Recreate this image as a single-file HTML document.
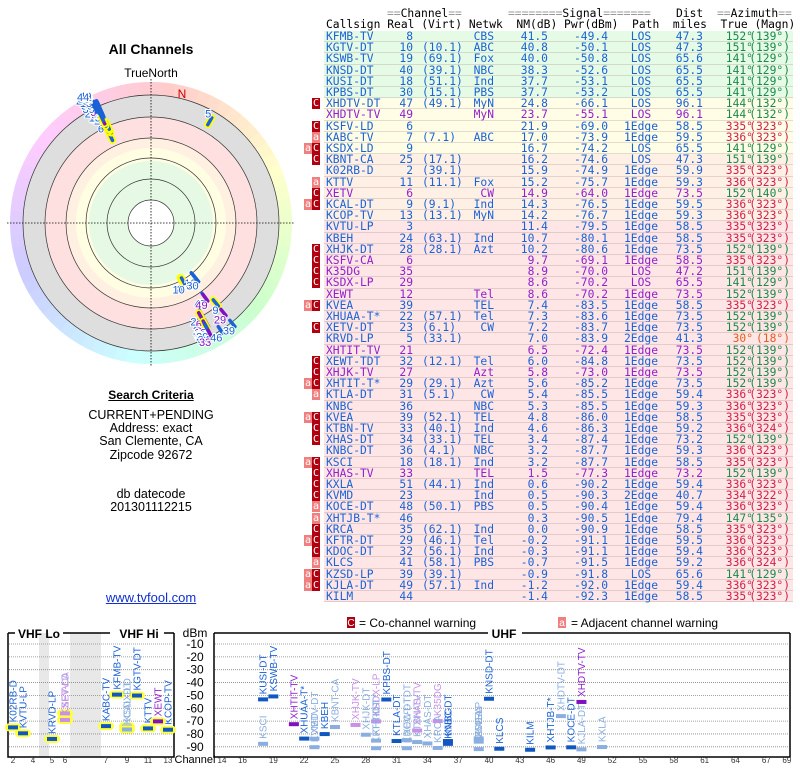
<!DOCTYPE html>
<html><head><meta charset="utf-8"><style>
body{margin:0;width:800px;height:768px;background:#fff;position:relative;overflow:hidden;font-family:"Liberation Sans",sans-serif}
.abs{position:absolute}
#tbl{position:absolute;left:0;top:0;width:800px;height:610px;font-family:"DejaVu Sans Mono","Liberation Mono",monospace;font-size:11.3px}
.row{position:absolute;left:324px;width:469px;height:11.2px;border-bottom:1px solid rgba(150,120,120,0.25);box-sizing:border-box}
.c{position:absolute;top:0;line-height:11px;white-space:pre}
.hd{position:absolute;white-space:pre;line-height:11px;color:#000}
.eq{color:#999}
.wC{position:absolute;width:8px;height:11px;background:#b00010;color:#fff;font-size:10px;line-height:11px;text-align:center}
.wa{position:absolute;width:8px;height:11px;background:#f08080;color:#fff;font-size:10px;line-height:11px;text-align:center}
.ctr{text-align:center;position:absolute;width:300px;left:1px}
</style></head><body>
<div class="ctr" style="top:41px;font-weight:bold;font-size:14px">All Channels</div>
<div class="ctr" style="top:66px;font-size:12px">TrueNorth</div>
<svg id="polar" class="abs" style="left:0;top:0" width="302" height="380"></svg>
<div class="ctr" style="top:388px;font-size:12px;font-weight:bold;text-decoration:underline">Search Criteria</div>
<div class="ctr" style="top:409px;font-size:12.5px;line-height:13.2px">CURRENT+PENDING<br>Address: exact<br>San Clemente, CA<br>Zipcode 92672</div>
<div class="ctr" style="top:488px;font-size:12.5px;line-height:13.2px">db datecode<br>201301112215</div>
<div class="ctr" style="top:590px;font-size:13px;color:#1030d0;text-decoration:underline">www.tvfool.com</div>
<div id="tbl">
<div class="abs" style="left:505px;top:31px;width:53px;height:570px;background:rgba(90,70,70,0.12)"></div>
<div class="hd" style="left:387px;top:8px"><span class="eq">==</span>Channel<span class="eq">==</span></div>
<div class="hd" style="left:508px;top:8px"><span class="eq">========</span>Signal<span class="eq">=======</span></div>
<div class="hd" style="left:676px;top:8px">Dist</div>
<div class="hd" style="left:717px;top:8px"><span class="eq">==</span>Azimuth<span class="eq">==</span></div>
<div class="hd" style="left:326px;top:19px">Callsign Real (Virt) Netwk  NM(dB) Pwr(dBm)  Path  miles  True (Magn)</div>
</div>
<svg id="spec" class="abs" style="left:0;top:615px" width="800" height="153"></svg>
<script>
const callsigns=["KFMB-TV","KGTV-DT","KSWB-TV","KNSD-DT","KUSI-DT","KPBS-DT","XHDTV-DT","XHDTV-TV","KSFV-LD","KABC-TV","KSDX-LD","KBNT-CA","K02RB-D","KTTV","XETV","KCAL-DT","KCOP-TV","KVTU-LP","KBEH","XHJK-DT","KSFV-CA","K35DG","KSDX-LP","XEWT","KVEA","XHUAA-T*","XETV-DT","KRVD-LP","XHTIT-TV","XEWT-TDT","XHJK-TV","XHTIT-T*","KTLA-DT","KNBC","KVEA","KTBN-TV","XHAS-DT","KNBC-DT","KSCI","XHAS-TV","KXLA","KVMD","KOCE-DT","XHTJB-T*","KRCA","KFTR-DT","KDOC-DT","KLCS","KZSD-LP","KJLA-DT","KILM"];
const channels=[8,10,19,40,18,30,47,49,6,7,9,25,2,11,6,9,13,3,24,28,6,35,29,12,39,22,23,5,21,32,27,29,31,36,39,33,34,36,18,33,51,23,48,46,35,29,32,41,39,49,44];
const virt=["","(10.1)","(69.1)","(39.1)","(51.1)","(15.1)","(49.1)","","","(7.1)","","(17.1)","(39.1)","(11.1)","","(9.1)","(13.1)","","(63.1)","(28.1)","","","","","","(57.1)","(6.1)","(33.1)","","(12.1)","","(29.1)","(5.1)","","(52.1)","(40.1)","(33.1)","(4.1)","(18.1)","","(44.1)","","(50.1)","","(62.1)","(46.1)","(56.1)","(58.1)","(39.1)","(57.1)",""];
const netwk=["CBS","ABC","Fox","NBC","Ind","PBS","MyN","MyN","","ABC","","","","Fox","CW","Ind","MyN","","Ind","Azt","","","","Tel","TEL","Tel","CW","","","Tel","Azt","Azt","CW","NBC","TEL","Ind","TEL","NBC","Ind","TEL","Ind","Ind","PBS","","Ind","Tel","Ind","PBS","","Ind",""];
const nm=[41.5,40.8,40.0,38.3,37.7,37.7,24.8,23.7,21.9,17.0,16.7,16.2,15.9,15.2,14.9,14.3,14.2,11.4,10.7,10.2,9.7,8.9,8.6,8.6,7.4,7.3,7.2,7.0,6.5,6.0,5.8,5.6,5.4,5.3,4.8,4.6,3.4,3.2,3.2,1.5,0.6,0.5,0.5,0.3,-0.0,-0.2,-0.3,-0.7,-0.9,-1.2,-1.4];
const pwr=[-49.4,-50.1,-50.8,-52.6,-53.1,-53.2,-66.1,-55.1,-69.0,-73.9,-74.2,-74.6,-74.9,-75.7,-64.0,-76.5,-76.7,-79.5,-80.1,-80.6,-69.1,-70.0,-70.2,-70.2,-83.5,-83.6,-83.7,-83.9,-72.4,-84.8,-73.0,-85.2,-85.5,-85.5,-86.0,-86.3,-87.4,-87.7,-87.7,-77.3,-90.2,-90.3,-90.4,-90.5,-90.9,-91.1,-91.1,-91.5,-91.8,-92.0,-92.3];
const paths=["LOS","LOS","LOS","LOS","LOS","LOS","LOS","LOS","1Edge","1Edge","LOS","LOS","1Edge","1Edge","1Edge","1Edge","1Edge","1Edge","1Edge","1Edge","1Edge","LOS","LOS","1Edge","1Edge","1Edge","1Edge","2Edge","1Edge","1Edge","1Edge","1Edge","1Edge","1Edge","1Edge","1Edge","1Edge","1Edge","1Edge","1Edge","1Edge","2Edge","1Edge","1Edge","1Edge","1Edge","1Edge","1Edge","LOS","1Edge","1Edge"];
const dist=[47.3,47.3,65.6,65.5,65.5,65.5,96.1,96.1,58.5,59.5,65.5,47.3,59.9,59.3,73.5,59.5,59.3,58.5,58.5,73.5,58.5,47.2,65.5,73.5,58.5,73.5,73.5,41.3,73.5,73.5,73.5,73.5,59.4,59.3,58.5,59.2,73.2,59.3,58.5,73.2,59.4,40.7,59.4,79.4,58.5,59.5,59.4,59.2,65.6,59.4,58.5];
const azTrue=[152,151,141,141,141,141,144,144,335,336,141,151,335,336,152,336,336,335,335,152,335,151,141,152,335,152,152,30,152,152,152,152,336,336,335,336,152,336,335,152,336,334,336,147,335,336,336,336,141,336,335];
const azMagn=[139,139,129,129,129,129,132,132,323,323,129,139,323,323,140,323,323,323,323,139,323,139,129,139,323,139,139,18,139,139,139,139,323,323,323,324,139,323,323,139,323,322,323,135,323,323,323,324,129,323,323];
const warns=["","","","","","","C","","C","a","aC","C","","a","C","aC","","","","C","C","C","C","","aC","","C","","","C","C","aC","a","","aC","C","C","","aC","C","C","C","a","a","C","aC","C","a","aC","aC",""];
const analog=[0,0,0,0,0,0,0,1,0,0,0,0,0,0,1,0,0,0,0,0,1,1,1,1,0,0,0,0,1,0,1,0,0,0,0,0,0,0,0,1,0,0,0,0,0,0,0,0,0,0,0];
const specTicks=[-10,-20,-30,-40,-50,-60,-70,-80,-90];
const vhfTicks=[2,4,5,6,7,9,11,13];
const uhfTicks=[14,16,19,22,25,28,31,34,37,40,43,46,49,52,55,58,61,64,67,69];

const NS="http://www.w3.org/2000/svg";
function mk(tag,attrs,parent){const e=document.createElementNS(NS,tag);for(const k in attrs)e.setAttribute(k,attrs[k]);parent.appendChild(e);return e;}

// ---- table ----
const tbl=document.getElementById('tbl');
const ROWH=11.2, TOP0=31;
function rowBg(v){return v>30?'#e6fbe6':v>=16.5?'#fffde6':v>=12?'#fff0e6':'#ffe6e6';}
function azColor(a){return (a>100&&a<200)?'#1a8a4a':(a>300?'#d0204a':'#e06020');}
callsigns.forEach((cs,i)=>{
  const r=document.createElement('div');
  r.className='row';
  
  
  r.style.top=(TOP0+i*ROWH)+'px';
  r.style.background=rowBg(nm[i]);
  const col=analog[i]?'#9020d0':'#1a62d6';
  const cells=[[cs,2,null],[String(channels[i]),null,89],[virt[i],98,null],[netwk[i],null,170],[nm[i].toFixed(1),null,224],[pwr[i].toFixed(1),null,284],[paths[i],null,null],[dist[i].toFixed(1),null,379],[azTrue[i]+'°',null,429],['('+azMagn[i]+'°)',null,466]];
  cells.forEach((c,j)=>{
    const s=document.createElement('span');s.className='c';s.textContent=c[0];
    s.style.color=j>=8?azColor(azTrue[i]):col;
    if(j===6){s.style.left='292px';s.style.width='50px';s.style.textAlign='center';}
    else if(c[1]!==null)s.style.left=c[1]+'px';
    else{s.style.right=(469-c[2])+'px';}
    r.appendChild(s);
  });
  tbl.appendChild(r);
  const w=warns[i];
  if(w.includes('C')){const b=document.createElement('div');b.className='wC';b.textContent='C';b.style.left='312px';b.style.top=(TOP0+i*ROWH)+'px';
    
    tbl.appendChild(b);}
  if(w.includes('a')){const b=document.createElement('div');b.className='wa';b.textContent='a';b.style.left=(w.includes('C')?'304px':'312px');b.style.top=(TOP0+i*ROWH)+'px';
    
    tbl.appendChild(b);}
});

// ---- polar ----
const P=document.getElementById('polar');
const CX=151,CY=223;
function pol(r,az){const a=az*Math.PI/180;return [CX+r*Math.sin(a),CY-r*Math.cos(a)];}
for(let k=0;k<72;k++){
  const a0=k*5,a1=k*5+5.5;const p0=pol(141,a0),p1=pol(141,a1);
  const s=mk('path',{d:`M${CX},${CY}L${p0[0]},${p0[1]}A141,141 0 0 1 ${p1[0]},${p1[1]}Z`,fill:`hsl(${(k*5+355)%360},100%,90%)`},P);
  
  
}
[[128,'#dedede'],[106,'#ffe0e0'],[85,'#fff0e2'],[75,'#fffde2'],[62,'#e6f9e4'],[23,'#ffffff']].forEach(d=>{const c=mk('circle',{cx:CX,cy:CY,r:d[0],fill:d[1]},P);
  
  });
[23,44,65,85,106,128].forEach(r=>{const c=mk('circle',{cx:CX,cy:CY,r:r,fill:'none',stroke:'#333','stroke-width':0.7},P);
  
  });
const l1=mk('line',{x1:CX-144,y1:CY,x2:CX+144,y2:CY,stroke:'#000','stroke-dasharray':'1.5,1.5','stroke-width':0.8},P);


const l2=mk('line',{x1:CX,y1:CY-144,x2:CX,y2:CY+144,stroke:'#000','stroke-dasharray':'1.5,1.5','stroke-width':0.8},P);


const nt=mk('text',{x:182,y:98,fill:'#d00000','font-size':12,'text-anchor':'middle'},P);nt.textContent='N';


function rOf(v){return 128-1.5*v;}
const isVHF=ch=>ch<=13;
callsigns.forEach((cs,i)=>{
  const r=rOf(nm[i]);const a=pol(r-4,azTrue[i]),b=pol(r+4,azTrue[i]);
  const col=analog[i]?'#8010c0':'#1a62d6';
  if(isVHF(channels[i])){const y=mk('line',{x1:a[0],y1:a[1],x2:b[0],y2:b[1],stroke:'#ffff00','stroke-width':7,'stroke-linecap':'round'},P);
    
    }
  const m=mk('line',{x1:a[0],y1:a[1],x2:b[0],y2:b[1],stroke:col,'stroke-width':3.5,'stroke-linecap':'round'},P);
  
  
  const lp=pol(r+9,azTrue[i]);
  const t=mk('text',{x:lp[0]-3,y:lp[1]+4,fill:col,'font-size':11,'text-anchor':'end',stroke:'#fff','stroke-width':2,'paint-order':'stroke'},P);
  t.textContent=channels[i];
  
  
});

// ---- spectrum ----
const S=document.getElementById('spec');
const Y0=644-615;
function sy(d){return Y0+(-10-d)*12.85/10;}
const vmap={2:13,3:23,4:33,5:52,6:65,7:106,8:117,9:127,10:137,11:148,12:158,13:168};
function vx(ch){return vmap[ch];}
function ux(ch){return 222+(ch-14)*10.27;}
function T(x,y,txt,attrs,name){const t=mk('text',Object.assign({x:x,y:y},attrs),S);t.textContent=txt;return t;}
const lc=mk('rect',{x:347,y:2,width:8,height:11,fill:'#b00010'},S);
T(351,11,'C',{fill:'#fff','font-size':10,'text-anchor':'middle'},'legend-c-glyph');
T(359,12,'= Co-channel warning',{fill:'#000','font-size':12},'legend-co-channel');
const la=mk('rect',{x:558,y:2,width:8,height:11,fill:'#f08080'},S);
T(562,11,'a',{fill:'#fff','font-size':10,'text-anchor':'middle'},'legend-a-glyph');
T(571,12,'= Adjacent channel warning',{fill:'#000','font-size':12},'legend-adjacent');
[[39,49],[70,101]].forEach(b=>{const g=mk('rect',{x:b[0],y:18,width:b[1]-b[0],height:124,fill:'#e8e8e8'},S);});
specTicks.forEach(d=>{
  [[9,173],[215,789]].forEach(p=>{const g=mk('line',{x1:p[0],y1:sy(d),x2:p[1],y2:sy(d),stroke:'#888','stroke-dasharray':'1,1','stroke-width':0.8},S);});
  T(195,sy(d)+4,String(d),{'font-size':12,'text-anchor':'middle',fill:'#000'},'y-tick-label');
});
T(195,22,'dBm',{'font-size':12,'text-anchor':'middle'},'y-axis-title');
function frame(x1,x2,gaps,name){const y=18,yb=142;
  const d=`M${x1},${y+5}V${yb}H${x2}V${y}`;const f=mk('path',{d:d,fill:'none',stroke:'#000','stroke-width':1.5},S);
  let cur=x1;gaps.forEach(g=>{const s=mk('line',{x1:cur,y1:y,x2:g[0],y2:y,stroke:'#000','stroke-width':1.5},S);cur=g[1];});
  const s=mk('line',{x1:cur,y1:y,x2:x2,y2:y,stroke:'#000','stroke-width':1.5},S);
  const e=mk('line',{x1:x1,y1:y,x2:x1,y2:y+5,stroke:'#000','stroke-width':1.5},S);
}
frame(8,174,[[15,63],[110,164]],'vhf-panel-frame');
frame(214,790,[[488,522]],'uhf-panel-frame');
T(39,23,'VHF Lo',{'font-size':12,'font-weight':'bold','text-anchor':'middle'},'vhf-lo-title');
T(139,23,'VHF Hi',{'font-size':12,'font-weight':'bold','text-anchor':'middle'},'vhf-hi-title');
T(504,23,'UHF',{'font-size':12,'font-weight':'bold','text-anchor':'middle'},'uhf-title');
T(195,148,'Channel',{'font-size':11,'text-anchor':'middle'},'x-axis-title');
vhfTicks.forEach(c=>T(vx(c),148,String(c),{'font-size':8,'text-anchor':'middle',fill:'#333'},'x-tick-label'));
uhfTicks.forEach(c=>T(ux(c),148,String(c),{'font-size':8,'text-anchor':'middle',fill:'#333'},'x-tick-label'));
callsigns.forEach((cs,i)=>{
  const ch=channels[i];const x=isVHF(ch)?vx(ch):ux(ch);const y=sy(pwr[i]);
  const weak=warns[i].includes('C');
  const col=analog[i]?(weak?'#c890e8':'#8010c0'):(weak?'#8aaee0':'#1058c0');
  const tcol=analog[i]?(weak?'#c890e8':'#9020d0'):(weak?'#8aaee0':'#1a62d6');
  if(isVHF(ch)){const h=mk('rect',{x:x-8,y:y-4,width:16,height:8,rx:4,fill:'#ffff40'},S);}
  const b=mk('rect',{x:x-5,y:y-2,width:10,height:4,fill:col},S);
  
  
  const t=mk('text',{x:x+3.5,y:y-5,fill:tcol,'font-size':10,transform:`rotate(-90 ${x+3.5} ${y-5})`},S);
  t.textContent=cs;
  
  
});
</script>
</body></html>
